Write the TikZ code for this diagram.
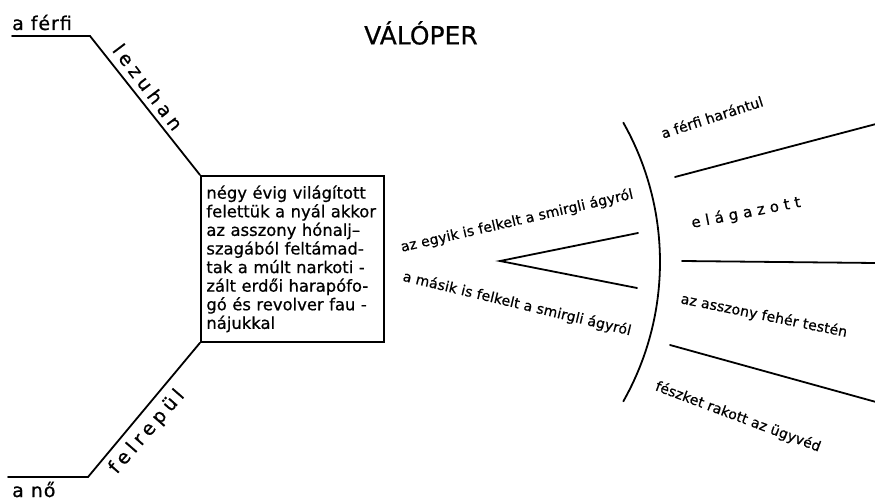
\documentclass[tikz,border=0pt]{standalone}
\usepackage{fontspec}
\setmainfont[FakeBold=0.7]{DejaVu Sans}
\begin{document}
\begin{tikzpicture}[x=1pt,y=-1pt,
  ln/.style={line width=1.8pt, line cap=round, line join=miter},
  armtxt/.style={inner sep=0pt, font=\fontsize{19}{21}\selectfont\addfontfeature{LetterSpace=24}},
  rtxt/.style={inner sep=0pt, font=\fontsize{14}{16}\selectfont\addfontfeature{LetterSpace=1}},
  lefttxt/.style={inner sep=0pt, anchor=base west, font=\fontsize{19}{21}\selectfont\addfontfeature{LetterSpace=5}},
  boxstyle/.style={draw, line width=1.8pt, anchor=north west, minimum width=183pt, minimum height=166pt,
     text width=172pt, inner sep=5pt, align=left, font=\fontsize{16.4}{18.6}\selectfont}
]
\useasboundingbox (0,0) rectangle (875,500);

\node[font=\fontsize{25}{28}\selectfont] (title) at (421,33) {VÁLÓPER};

\node[boxstyle] (box) at (200,175) {%
\makebox[172pt][s]{négy évig világított}\\
\makebox[172pt][s]{felettük a nyál akkor}\\
\makebox[172pt][s]{az asszony hónalj–}\\
\makebox[172pt][s]{szagából feltámad-}\\
\makebox[172pt][s]{tak a múlt narkoti -}\\
\makebox[172pt][s]{zált erdői harapófo-}\\
\makebox[172pt][s]{gó és revolver fau -}\\
nájukkal};

% left arms
\coordinate (tl) at (12,36);
\coordinate (tk) at (90,36);
\coordinate (bl) at (8,477);
\coordinate (bk) at (88,477);
\draw[ln] (tl) -- (tk) -- (box.north west);
\draw[ln] (bl) -- (bk) -- (box.south west);
\node[lefttxt] (aferfi) at (12,30) {a férfi};
\node[lefttxt] (ano) at (12,497) {a nő};
\node[armtxt, rotate=-53] (lezuhan) at (148,87) {lezuhan};
\node[armtxt, rotate=49] (felrepul) at (147,432) {felrepül};

% chevron
\coordinate (apex) at (500,261);
\coordinate (ua) at (638,233);
\coordinate (la) at (637,288);
\draw[ln] (ua) -- (apex) -- (la);
\node[rtxt, rotate=13] (egyik) at (517,221) {az egyik is felkelt a smirgli ágyról};
\node[rtxt, rotate=-13.5] (masik) at (517,304) {a másik is felkelt a smirgli ágyról};

% arc
\coordinate (c) at (377,262);
\draw[ln] ([shift={(-29.5:283)}]c) arc[start angle=-29.5, end angle=29.5, radius=283];

% right lines
\coordinate (r1a) at (675,177);
\coordinate (r1b) at (876,124);
\coordinate (r2a) at (682,261);
\coordinate (r2b) at (876,263);
\coordinate (r3a) at (670,345);
\coordinate (r3b) at (876,402);
\draw[ln] (r1a) -- (r1b);
\draw[ln] (r2a) -- (r2b);
\draw[ln] (r3a) -- (r3b);

\node[rtxt, rotate=18] (harantul) at (712,117) {a férfi harántul};
\node[rtxt, rotate=11, font=\fontsize{15}{17}\selectfont\addfontfeature{LetterSpace=34}] (elagazott) at (746,213) {elágazott};
\node[rtxt, rotate=-11.5] (testen) at (764,316) {az asszony fehér testén};
\node[rtxt, rotate=-20.6] (ugyved) at (738,417) {fészket rakott az ügyvéd};
\end{tikzpicture}
\end{document}
